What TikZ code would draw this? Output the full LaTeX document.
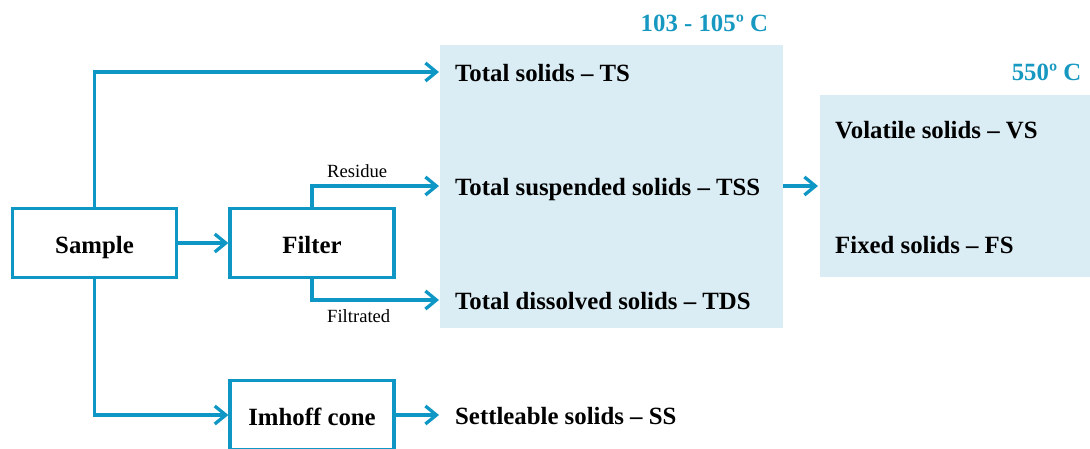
\documentclass[tikz,border=0pt]{standalone}
\usepackage{fontspec}
\setmainfont{Liberation Serif}
\usetikzlibrary{arrows.meta}
\definecolor{flow}{RGB}{14,151,196}
\definecolor{panel}{RGB}{218,237,245}
\definecolor{tempc}{RGB}{22,152,192}
\begin{document}
\begin{tikzpicture}[x=1pt,y=1pt,
  box/.style={draw=flow, line width=3.3pt, fill=white, minimum width=164pt, minimum height=69pt, inner sep=0pt, text height=20pt, text depth=0pt, font=\fontsize{24.8}{28}\selectfont\bfseries},
  lbl/.style={anchor=base west, inner sep=0pt, font=\fontsize{24.8}{28}\selectfont\bfseries},
  small/.style={anchor=base west, inner sep=0pt, font=\fontsize{18.6}{22}\selectfont},
  templbl/.style={text=tempc, inner sep=0pt, font=\fontsize{24.8}{28}\selectfont\bfseries},
  flowline/.style={draw=flow, line width=3.3pt, -{Straight Barb[length=11pt,width=18pt]}},
  panelbox/.style={fill=panel, inner sep=0pt, anchor=north west}
]
\useasboundingbox (0,0) rectangle (1090,-448);
% panels
\node[panelbox, minimum width=343pt, minimum height=283pt] (panelA) at (440,-45) {};
\node[panelbox, minimum width=270pt, minimum height=182pt] (panelB) at (820,-95) {};
% temperatures
\node[templbl, anchor=base west] (tA) at (640.5,-31) {103 - 105º C};
\node[templbl, anchor=base east] (tB) at (1081.5,-80) {550º C};
% process boxes
\node[box] (sample) at (94.5,-243) {Sample};
\node[box] (filter) at (312,-243) {Filter};
\node[box] (imhoff) at (312,-415) {Imhoff cone};
% result labels
\node[lbl] (ts)  at (455,-81)  {Total solids – TS};
\node[lbl] (tss) at (455,-195) {Total suspended solids – TSS};
\node[lbl] (tds) at (455,-309) {Total dissolved solids – TDS};
\node[lbl] (ss)  at (455,-424) {Settleable solids – SS};
\node[lbl] (vs)  at (835,-138) {Volatile solids – VS};
\node[lbl] (fs)  at (835,-253) {Fixed solids – FS};
% small labels
\node[small] (residue)   at (327,-177) {Residue};
\node[small] (filtrated) at (327,-322) {Filtrated};
% arrow end points
\coordinate (tsin)  at (439,-72);
\coordinate (tssin) at (439,-186);
\coordinate (tdsin) at (439,-300);
\coordinate (ssin)  at (439,-415);
\coordinate (bin)   at (818,-186);
% connectors
\draw[flowline] (sample.north) |- (tsin);
\draw[flowline] (sample.east) -- (filter.west);
\draw[flowline] (filter.north) |- (tssin);
\draw[flowline] (filter.south) |- (tdsin);
\draw[flowline] (sample.south) |- (imhoff.west);
\draw[flowline] (imhoff.east) -- (ssin);
\draw[flowline] (panelA.east |- bin) -- (bin);
\end{tikzpicture}
\end{document}
